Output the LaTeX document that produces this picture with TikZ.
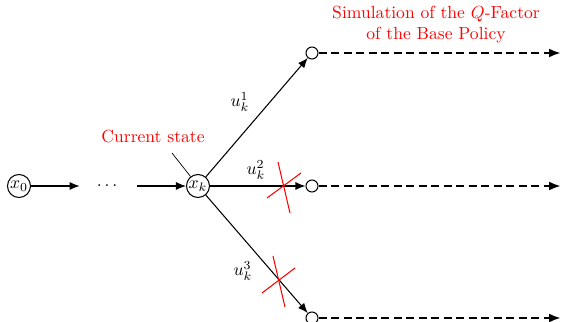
\documentclass[tikz,border=0pt]{standalone}
\usepackage{amsmath}
\usepackage{tikz}
\usetikzlibrary{arrows.meta, positioning}

\begin{document}
\begin{tikzpicture}[
  state/.style={circle, draw, semithick, inner sep=0pt, minimum size=4.6mm},
  leaf/.style={circle, draw, semithick, inner sep=0pt, minimum size=2.4mm},
  arrow/.style={-{Latex[length=2mm, width=1.6mm]}, semithick},
  simarrow/.style={-{Latex[length=2.4mm, width=1.8mm]}, line width=1.3pt,
                   dash pattern=on 1.6mm off 0.9mm},
  cross/.style={red, semithick},
  note/.style={red, align=center},
  ctrl/.style={inner sep=0.5pt}
]
  \useasboundingbox (0,0) rectangle (11.22,6.44);

  \node[state] (x0) at (0.38,2.72) {$x_0$};
  \node[minimum width=1.14cm] (dots) at (2.17,2.72) {$\dots$};
  \node[state] (xk) at (3.96,2.72) {$x_k$};

  \node[leaf] (s1) at (6.24,5.38) {};
  \node[leaf] (s2) at (6.24,2.72) {};
  \node[leaf] (s3) at (6.24,0.08) {};
  \coordinate (e1) at (11.22,5.38);
  \coordinate (e2) at (11.22,2.72);
  \coordinate (e3) at (11.22,0.08);

  \draw[arrow] (x0) -- (dots);
  \draw[arrow] (dots) -- (xk);
  \draw[arrow] (xk) -- (s1);
  \draw[arrow] (xk) -- (s2);
  \draw[arrow] (xk) -- (s3);

  \node[ctrl] (u1) at (4.80,4.40) {$u_k^1$};
  \node[ctrl] (u2) at (5.12,3.04) {$u_k^2$};
  \node[ctrl] (u3) at (4.86,1.02) {$u_k^3$};

  \draw[simarrow] (s1) -- (e1);
  \draw[simarrow] (s2) -- (e2);
  \draw[simarrow] (s3) -- (e3);

  % crossed-out controls
  \draw[cross] (5.34,2.48) -- (6.02,2.98);
  \draw[cross] (5.56,3.20) -- (5.80,2.18);
  \draw[cross] (5.24,0.58) -- (5.90,1.08);
  \draw[cross] (5.46,1.32) -- (5.70,0.30);

  \node[note] (cur) at (3.06,3.70) {Current state};
  \draw[thin] (3.44,3.38) -- (xk);

  \node[note] (sim) at (8.72,5.94) {Simulation of the $Q$-Factor\\of the Base Policy};
\end{tikzpicture}
\end{document}
